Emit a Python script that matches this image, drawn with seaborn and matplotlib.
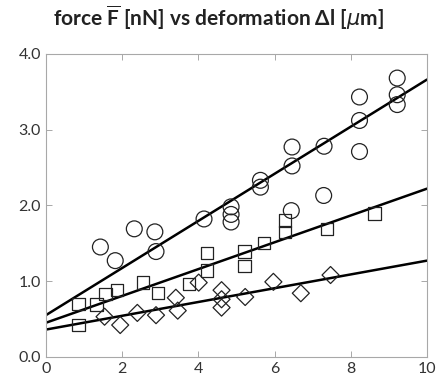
import numpy as np
import pandas as pd
import matplotlib
matplotlib.use("Agg")
import matplotlib.pyplot as plt
import seaborn as sns

# ---- data ----
circle_x = [1.43, 1.82, 2.32, 2.86, 2.89, 4.15, 4.86, 4.86, 4.86, 5.63, 5.63,
            6.46, 6.46, 6.44, 7.30, 7.29, 8.23, 8.23, 8.23, 9.22, 9.22, 9.22]
circle_y = [1.45, 1.27, 1.69, 1.65, 1.39, 1.82, 1.98, 1.88, 1.78, 2.33, 2.24,
            2.77, 2.52, 1.93, 2.78, 2.13, 3.43, 3.12, 2.71, 3.68, 3.46, 3.33]

square_x = [0.86, 0.86, 1.33, 1.56, 1.87, 2.55, 2.94, 3.75, 4.23, 4.23, 5.21,
            5.21, 5.73, 6.28, 6.28, 7.37, 8.62]
square_y = [0.70, 0.42, 0.69, 0.83, 0.88, 0.98, 0.84, 0.96, 1.37, 1.14, 1.39,
            1.20, 1.50, 1.80, 1.65, 1.69, 1.89]

diamond_x = [1.54, 1.95, 2.40, 2.89, 3.41, 3.46, 4.01, 4.61, 4.61, 4.61, 5.23,
             5.97, 6.69, 7.47]
diamond_y = [0.53, 0.42, 0.58, 0.55, 0.78, 0.61, 0.98, 0.88, 0.76, 0.65, 0.79,
             0.99, 0.84, 1.08]

# fitted lines: intercept, slope per series
series_names = ["circle", "square", "diamond"]
fit_intercept = [0.55, 0.45, 0.36]
fit_slope = [0.311, 0.177, 0.091]
line_x = [0, 10]

x_ticks = [0, 2, 4, 6, 8, 10]
x_tick_labels = ["0", "2", "4", "6", "8", "10"]
y_ticks = [0.0, 1.0, 2.0, 3.0, 4.0]
y_tick_labels = ["0.0", "1.0", "2.0", "3.0", "4.0"]

# ---- build tables ----
pts = pd.concat([
    pd.DataFrame({"x": circle_x, "y": circle_y, "series": "circle"}),
    pd.DataFrame({"x": square_x, "y": square_y, "series": "square"}),
    pd.DataFrame({"x": diamond_x, "y": diamond_y, "series": "diamond"}),
], ignore_index=True)

lines = pd.concat([
    pd.DataFrame({"x": line_x,
                  "y": [b + m * xx for xx in line_x],
                  "series": name})
    for name, b, m in zip(series_names, fit_intercept, fit_slope)
], ignore_index=True)

sns.set_style("ticks")
plt.rcParams["font.family"] = ["Lato", "DejaVu Sans"]
plt.rcParams["mathtext.fontset"] = "custom"
plt.rcParams["mathtext.rm"] = "Lato:bold"
plt.rcParams["mathtext.bf"] = "Lato:bold"
plt.rcParams["mathtext.it"] = "DejaVu Sans:italic"

fig = plt.figure(figsize=(4.37, 3.90), dpi=100)
ax = fig.add_axes([0.105, 0.085, 0.872, 0.777])

sns.lineplot(data=lines, x="x", y="y", units="series", estimator=None,
             color="black", linewidth=1.8, ax=ax, zorder=2)

marker_map = {"circle": "o", "square": "s", "diamond": "D"}
size_map = {"circle": 130, "square": 80, "diamond": 75}
for name in series_names:
    sub = pts[pts["series"] == name]
    sns.scatterplot(data=sub, x="x", y="y", marker=marker_map[name],
                    s=size_map[name], facecolor="none", edgecolor="#222222",
                    linewidth=0.9, ax=ax, zorder=3)

ax.set_xlim(0, 10)
ax.set_ylim(0, 4.0)
ax.set_xticks(x_ticks)
ax.set_xticklabels(x_tick_labels)
ax.set_yticks(y_ticks)
ax.set_yticklabels(y_tick_labels)
ax.set_xlabel("")
ax.set_ylabel("")
ax.tick_params(direction="in", length=4, width=0.6, colors="#9a9a9a",
               labelcolor="#333333", labelsize=11.5,
               top=True, right=True)
for sp in ax.spines.values():
    sp.set_color("#a8a8a8")
    sp.set_linewidth(0.8)

fig.text(0.5, 0.953, r"force $\overline{\mathrm{F}}$ [nN] vs deformation $\Delta$l [$\mu$m]",
         ha="center", va="center", fontsize=15, fontweight="bold",
         color="#222222")

fig.savefig("out.png", dpi=100, facecolor="white")
